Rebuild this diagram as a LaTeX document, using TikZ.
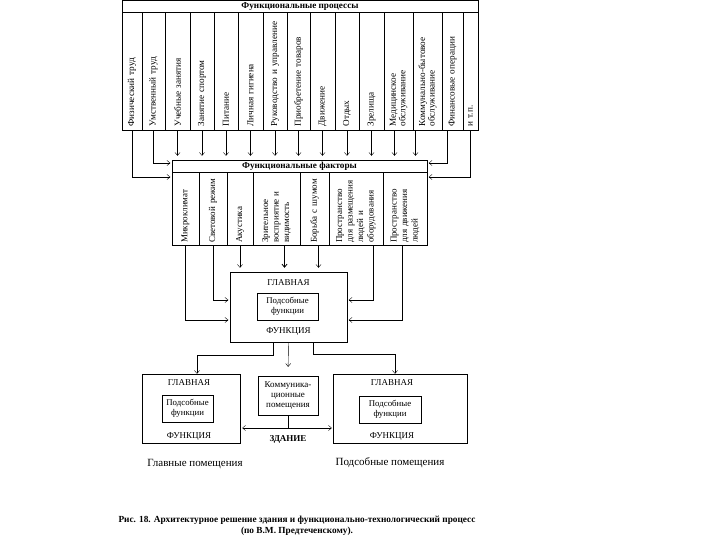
\documentclass[tikz,border=0pt]{standalone}
\usepackage{fontspec}
\usetikzlibrary{arrows.meta}
\setmainfont{Liberation Serif}
\begin{document}
\begin{tikzpicture}[x=1pt, y=-1pt, >={Straight Barb[length=3pt,width=5pt]},
    cell/.style={draw, rotate=90, minimum width=118pt, text width=111pt, align=left, inner sep=2pt, font=\fontsize{9.2}{9.5}\selectfont},
    fcell/.style={draw, rotate=90, minimum width=73pt, text width=69pt, align=left, inner sep=2pt, font=\fontsize{9}{10.5}\selectfont},
    head/.style={font=\fontsize{9.2}{10}\selectfont\bfseries, inner sep=1pt},
    txt/.style={font=\fontsize{9}{10}\selectfont, inner sep=1pt, align=center},
    sub/.style={draw, minimum width=61pt, minimum height=27pt, align=center, inner sep=1pt, font=\fontsize{8.8}{10}\selectfont}]

    \useasboundingbox (0,0) rectangle (720,540);

    % Функциональные процессы
    \node[draw, minimum width=356pt, minimum height=130pt] (proc) at (300,65) {};
    \node[head] (prochead) at (300,6) {Функциональные процессы};
    \node[cell, minimum height=20pt] (p1) at (132,71) {Физический труд};
    \node[cell, minimum height=23pt] (p2) at (153.5,71) {Умственный труд};
    \node[cell, minimum height=25pt] (p3) at (177.5,71) {Учебные занятия};
    \node[cell, minimum height=24pt] (p4) at (202,71) {Занятие спортом};
    \node[cell, minimum height=24pt] (p5) at (226,71) {Питание};
    \node[cell, minimum height=25pt] (p6) at (250.5,71) {Личная гигиена};
    \node[cell, minimum height=24pt] (p7) at (275,71) {Руководство и управление};
    \node[cell, minimum height=23pt] (p8) at (298.5,71) {Приобретение товаров};
    \node[cell, minimum height=25pt] (p9) at (322.5,71) {Движение};
    \node[cell, minimum height=24pt] (p10) at (347,71) {Отдых};
    \node[cell, minimum height=25pt] (p11) at (371.5,71) {Зрелища};
    \node[cell, minimum height=29pt] (p12) at (398.5,71) {Медицинское\\обслуживание};
    \node[cell, minimum height=29pt] (p13) at (427.5,71) {Коммунально-бытовое\\обслуживание};
    \node[cell, minimum height=21pt] (p14) at (452.5,71) {Финансовые операции};
    \node[cell, minimum height=15pt] (p15) at (470.5,71) {и т.п.};

    % Функциональные факторы
    \node[draw, minimum width=255pt, minimum height=85pt] (fac) at (299.5,202.5) {};
    \node[head] (fachead) at (299.5,166) {Функциональные факторы};
    \node[fcell, minimum height=27pt] (f1) at (185.5,208.5) {Микроклимат};
    \node[fcell, minimum height=28pt] (f2) at (213,208.5) {Световой режим};
    \node[fcell, minimum height=26pt] (f3) at (240,208.5) {Акустика};
    \node[fcell, minimum height=47pt] (f4) at (276.5,208.5) {Зрительное\\восприятие и\\видимость};
    \node[fcell, minimum height=29pt] (f5) at (314.5,208.5) {Борьба с шумом};
    \node[fcell, minimum height=54pt] (f6) at (356,208.5) {Пространство\\для размещения\\людей и\\оборудования};
    \node[fcell, minimum height=44pt] (f7) at (405,208.5) {Пространство\\для движения\\людей};

    % Главная функция
    \node[draw, minimum width=117pt, minimum height=70pt] (main) at (288.5,307) {};
    \node[txt] (mainhead) at (288.5,283) {ГЛАВНАЯ};
    \node[sub] (mainsub) at (287.5,306.5) {Подсобные\\функции};
    \node[txt] (mainfoot) at (288.5,332) {ФУНКЦИЯ};

    % Помещения
    \node[draw, minimum width=98pt, minimum height=69pt] (lbox) at (191,408.5) {};
    \node[txt] (lhead) at (189,383) {ГЛАВНАЯ};
    \node[sub, minimum width=51pt] (lsub) at (187.5,408.5) {Подсобные\\функции};
    \node[txt] (lfoot) at (189,437) {ФУНКЦИЯ};

    \node[draw, minimum width=60pt, minimum height=39pt, txt, inner sep=2pt] (comm) at (288,395.5) {Коммуника-\\ционные\\помещения};

    \node[draw, minimum width=134pt, minimum height=69pt] (rbox) at (400,408.5) {};
    \node[txt] (rhead) at (392,383) {ГЛАВНАЯ};
    \node[sub, minimum width=62pt] (rsub) at (390,409.5) {Подсобные\\функции};
    \node[txt] (rfoot) at (392,437) {ФУНКЦИЯ};

    \coordinate (bld) at (288,428);
    \node[txt, font=\fontsize{9}{10}\selectfont\bfseries] (bldtext) at (288,439) {ЗДАНИЕ};

    \node[txt, font=\fontsize{11}{12}\selectfont] (lcap) at (195,464) {Главные помещения};
    \node[txt, font=\fontsize{11}{12}\selectfont] (rcap) at (390,463) {Подсобные помещения};

    % Подпись
    \node[txt, font=\fontsize{9.3}{11}\selectfont\bfseries] (caption) at (297,526)
        {Рис. 18. Архитектурное решение здания и функционально-технологический процесс\\(по В.М. Предтеченскому).};

    % Стрелки
    \draw[->, shorten >=1.5pt] (p1.west) |- ([yshift=25.5pt]fac.west);
    \draw[->, shorten >=1.5pt] (p2.west) |- ([yshift=39.5pt]fac.west);
    \draw[->, shorten >=4pt] (p3.west) -- (p3.west |- fac.north);
    \draw[->, shorten >=4pt] (p4.west) -- (p4.west |- fac.north);
    \draw[->, shorten >=4pt] (p5.west) -- (p5.west |- fac.north);
    \draw[->, shorten >=4pt] (p6.west) -- (p6.west |- fac.north);
    \draw[->, shorten >=4pt] (p7.west) -- (p7.west |- fac.north);
    \draw[->, shorten >=4pt] (p8.west) -- (p8.west |- fac.north);
    \draw[->, shorten >=4pt] (p9.west) -- (p9.west |- fac.north);
    \draw[->, shorten >=4pt] (p10.west) -- (p10.west |- fac.north);
    \draw[->, shorten >=4pt] (p11.west) -- (p11.west |- fac.north);
    \draw[->, shorten >=4pt] ([xshift=-4pt]p12.west) -- ([xshift=-4pt]p12.west |- fac.north);
    \draw[->, shorten >=4pt] ([xshift=-12pt]p13.west) -- ([xshift=-12pt]p13.west |- fac.north);
    \draw[->, shorten >=1.5pt] ([xshift=-5pt]p14.west) |- ([yshift=39.5pt]fac.east);
    \draw[->, shorten >=1.5pt] (p15.west) |- ([yshift=25.5pt]fac.east);

    \draw[->, shorten >=1.5pt] (f1.west) |- ([yshift=-13pt]main.west);
    \draw[->, shorten >=1.5pt] (f2.west) |- ([yshift=7pt]main.west);
    \draw[->, shorten >=4pt] (f3.west) -- (f3.west |- main.north);
    \draw[->, shorten >=4pt, thick] ([xshift=8pt]f4.west) -- ([xshift=8pt]f4.west |- main.north);
    \draw[->, shorten >=4pt] ([xshift=4pt]f5.west) -- ([xshift=4pt]f5.west |- main.north);
    \draw[->, shorten >=1.5pt] ([xshift=17pt]f6.west) |- ([yshift=7pt]main.east);
    \draw[->, shorten >=1.5pt] ([xshift=-3pt]f7.west) |- ([yshift=-13pt]main.east);

    \draw[->] ([xshift=-15.5pt]main.south) -- ++(0,13) -| ([xshift=6pt]lbox.north);
    \draw[->, shorten >=9pt] (main.south) -- (comm.north);
    \draw[->] ([xshift=24.5pt]main.south) -- ++(0,12) -| ([xshift=-5pt]rbox.north);

    \draw (comm.south) -- (bld);
    \draw[<->, shorten <=2pt, shorten >=1pt] (lbox.east |- bld) -- (rbox.west |- bld);

\end{tikzpicture}
\end{document}
